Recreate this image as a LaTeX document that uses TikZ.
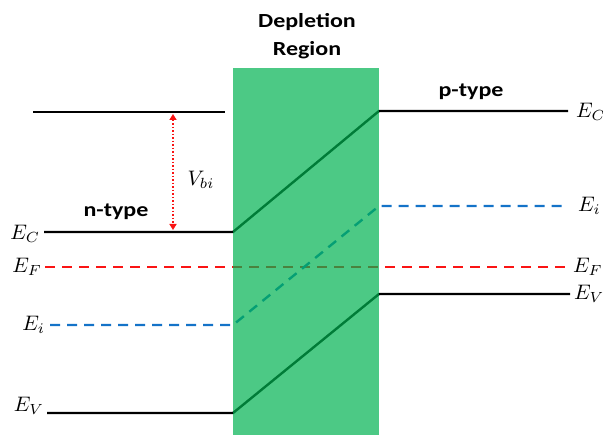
\documentclass[tikz,border=0pt]{standalone}
\usepackage{fontspec}
\newfontfamily\labfont{Carlito}
\usetikzlibrary{arrows.meta}
\definecolor{depgreen}{RGB}{0,178,81}
\definecolor{eiblue}{RGB}{20,115,200}
\definecolor{efred}{RGB}{250,20,20}
\tikzset{
  band/.style={line width=2.4pt, black},
  fermi/.style={line width=2.4pt, efred, dash pattern=on 10pt off 7pt},
  intr/.style={line width=2.4pt, eiblue, dash pattern=on 10pt off 7pt},
  elab/.style={font=\normalsize, scale=2.1, inner sep=0.3pt},
  tlab/.style={font=\labfont\bfseries\fontsize{20}{24}\selectfont, xscale=1.2, inner sep=0pt},
  vbiarrow/.style={efred, line width=1.5pt, dotted, {Triangle[length=6pt,width=7pt]}-{Triangle[length=6pt,width=7pt]}}
}
\begin{document}
\begin{tikzpicture}[x=1pt,y=-1pt]
\useasboundingbox (0,0) rectangle (603,435);
% coordinates
\coordinate (ref0) at (33,112);
\coordinate (ref1) at (225,112);
\coordinate (ecl0) at (44,232);
\coordinate (ecl1) at (233,232);
\coordinate (ecr0) at (379,111);
\coordinate (ecr1) at (568,111);
\coordinate (efl0) at (45,267);
\coordinate (efl1) at (233,267);
\coordinate (efr0) at (379,267);
\coordinate (efr1) at (566,267);
\coordinate (eil0) at (50,325);
\coordinate (eil1) at (233,325);
\coordinate (eir0) at (379,206);
\coordinate (eir1) at (568,206);
\coordinate (evl0) at (47,413);
\coordinate (evl1) at (233,413);
\coordinate (evr0) at (379,294);
\coordinate (evr1) at (570,294);
\coordinate (va) at (173,114);
\coordinate (vb) at (173,230);
% bands
\draw[band] (ref0) -- (ref1);
\draw[band] (ecl0) -- (ecl1) -- (ecr0) -- (ecr1);
\draw[fermi] (efl0) -- (efr1);
\draw[intr] (eil0) -- (eil1) -- (eir0) -- (eir1);
\draw[band] (evl0) -- (evl1) -- (evr0) -- (evr1);
% depletion region
\node[draw=none, fill=depgreen, fill opacity=0.7, minimum width=146pt, minimum height=367pt, inner sep=0pt, anchor=north west] (dep) at (233,68) {};
\node[tlab] (deplab1) at (307,22) {Depletion};
\node[tlab] (deplab2) at (307,50) {Region};
% Vbi
\draw[vbiarrow] (va) -- (vb);
\node[elab] (vbi) at (201,180) {$V_{bi}$};
% type labels
\node[tlab] (ntype) at (116,212) {n-type};
\node[tlab] (ptype) at (471,92) {p-type};
% energy labels left
\node[elab, anchor=east] (lEC) at ([xshift=-3pt,yshift=-2pt]ecl0) {$E_C$};
\node[elab, anchor=east] (lEF) at ([xshift=-2pt]efl0) {$E_F$};
\node[elab, anchor=east] (lEi) at ([xshift=-4pt]eil0) {$E_i$};
\node[elab, anchor=east] (lEV) at ([xshift=-2pt,yshift=7pt]evl0) {$E_V$};
% energy labels right
\node[elab, anchor=west] (rEC) at ([xshift=7pt,yshift=-1pt]ecr1) {$E_C$};
\node[elab, anchor=west] (rEi) at ([xshift=9pt]eir1) {$E_i$};
\node[elab, anchor=west] (rEF) at ([xshift=6pt]efr1) {$E_F$};
\node[elab, anchor=west] (rEV) at ([xshift=3pt]evr1) {$E_V$};
\end{tikzpicture}
\end{document}
